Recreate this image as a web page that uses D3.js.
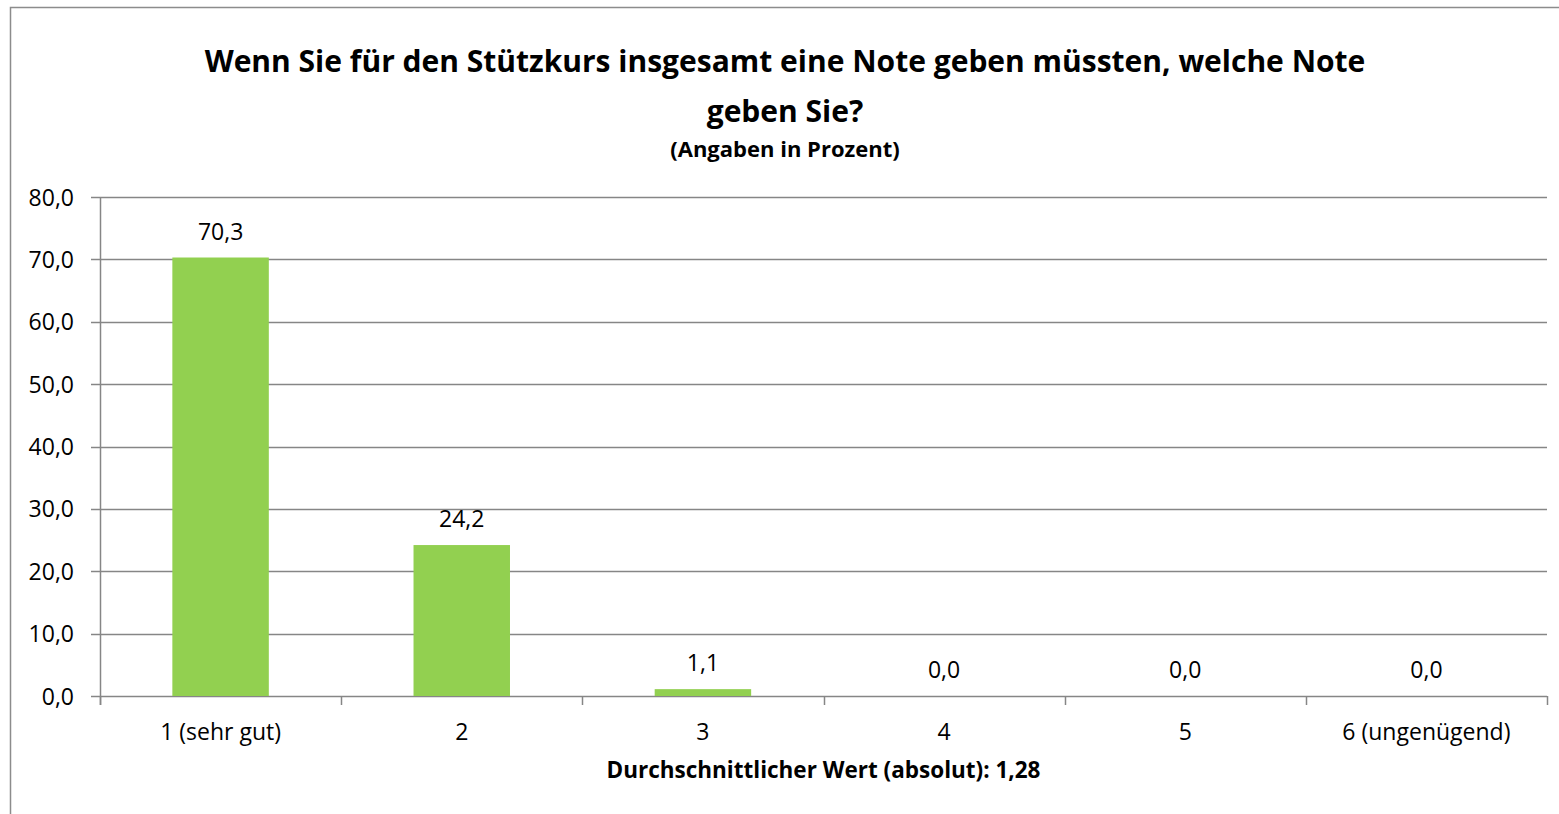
<!DOCTYPE html>
<html>
<head>
<meta charset="utf-8">
<script src="https://cdn.jsdelivr.net/npm/d3@7"></script>
<style>
  body { margin: 0; background: #fff; }
  svg { display: block; font-family: "Open Sans", Lato, sans-serif; }
</style>
</head>
<body>
<div id="chart"></div>
<script>
var categories = ["1 (sehr gut)", "2", "3", "4", "5", "6 (ungenügend)"];
var values = [70.3, 24.2, 1.1, 0.0, 0.0, 0.0];
var yTicks = [0, 10, 20, 30, 40, 50, 60, 70, 80];
var titleLines = ["Wenn Sie für den Stützkurs insgesamt eine Note geben müssten, welche Note", "geben Sie?"];
var subtitle = "(Angaben in Prozent)";
var xTitle = "Durchschnittlicher Wert (absolut): 1,28";

var W = 1559, H = 814;
var margin = {top: 197, right: 12, bottom: 118, left: 100};
var width = 1547 - margin.left, height = 696 - margin.top;
var fmt = function(v) { return d3.format(".1f")(v).replace(".", ","); };

var svg = d3.select("#chart").append("svg")
    .attr("width", W).attr("height", H);

// chart border
svg.append("rect")
    .attr("x", 10.5).attr("y", 7.5)
    .attr("width", 1560).attr("height", 820)
    .attr("fill", "none").attr("stroke", "#8c8c8c").attr("stroke-width", 1.5);

// titles
svg.selectAll("text.title").data(titleLines).enter().append("text")
    .attr("class", "title")
    .attr("x", 785).attr("y", function(d, i) { return 72 + i * 50; })
    .attr("text-anchor", "middle")
    .attr("font-size", 30).attr("font-weight", "bold")
    .text(function(d) { return d; });
svg.append("text")
    .attr("x", 785).attr("y", 157)
    .attr("text-anchor", "middle")
    .attr("font-size", 22).attr("font-weight", "bold")
    .text(subtitle);

var g = svg.append("g").attr("transform", "translate(" + margin.left + "," + margin.top + ")");

var x = d3.scaleBand().domain(categories).range([0, width])
    .paddingInner(0.6).paddingOuter(0.3);
var y = d3.scaleLinear().domain([0, 80]).range([height, 0]);

// gridlines
g.selectAll("line.grid").data(yTicks).enter().append("line")
    .attr("class", "grid")
    .attr("x1", -9).attr("x2", width)
    .attr("y1", function(d) { return Math.round(y(d)) + 0.5; })
    .attr("y2", function(d) { return Math.round(y(d)) + 0.5; })
    .attr("stroke", "#868686").attr("stroke-width", 1.5);

// y axis
var yAxis = g.append("g").call(d3.axisLeft(y).tickValues(yTicks).tickFormat(fmt).tickSize(0).tickPadding(26));
yAxis.select(".domain").remove();
yAxis.selectAll("text").attr("font-size", 23).attr("fill", "#000").attr("font-family", "'Open Sans', Lato, sans-serif").attr("dy", "0.35em");
g.append("line").attr("x1", 0.5).attr("x2", 0.5).attr("y1", 0).attr("y2", height + 9)
    .attr("stroke", "#868686").attr("stroke-width", 1.5);

// x ticks
var step = x.step();
var bounds = d3.range(categories.length + 1).map(function(i) { return i * step; });
g.selectAll("line.xtick").data(bounds).enter().append("line")
    .attr("class", "xtick")
    .attr("x1", function(d) { return Math.round(d) + 0.5; })
    .attr("x2", function(d) { return Math.round(d) + 0.5; })
    .attr("y1", height).attr("y2", height + 9)
    .attr("stroke", "#868686").attr("stroke-width", 1.5);

// bars
g.selectAll("rect.bar").data(values).enter().append("rect")
    .attr("class", "bar")
    .attr("x", function(d, i) { return x(categories[i]); })
    .attr("width", x.bandwidth())
    .attr("y", function(d) { return y(d); })
    .attr("height", function(d) { return height - y(d); })
    .attr("fill", "#92d050");

// value labels
g.selectAll("text.val").data(values).enter().append("text")
    .attr("class", "val")
    .attr("x", function(d, i) { return x(categories[i]) + x.bandwidth() / 2; })
    .attr("y", function(d) { return y(d) - 18; })
    .attr("text-anchor", "middle")
    .attr("font-size", 23)
    .text(fmt);

// category labels
g.selectAll("text.cat").data(categories).enter().append("text")
    .attr("class", "cat")
    .attr("x", function(d) { return x(d) + x.bandwidth() / 2; })
    .attr("y", height + 44)
    .attr("text-anchor", "middle")
    .attr("font-size", 23)
    .text(function(d) { return d; });

// x title
g.append("text")
    .attr("x", width / 2).attr("y", height + 82)
    .attr("text-anchor", "middle")
    .attr("font-size", 22.5).attr("font-weight", "bold")
    .text(xTitle);
</script>
</body>
</html>
